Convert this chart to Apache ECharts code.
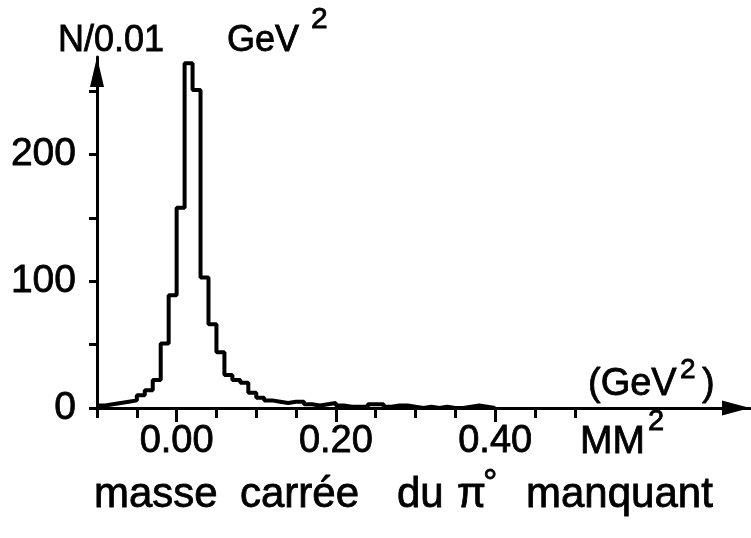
<!DOCTYPE html>
<html>
<head>
<meta charset="utf-8">
<script src="https://cdn.jsdelivr.net/npm/echarts@6/dist/echarts.min.js"></script>
<style>
  html, body { margin: 0; padding: 0; background: #ffffff; }
  #chart { width: 751px; height: 538px; }
</style>
</head>
<body>
<div id="chart"></div>
<script>
// Missing mass squared histogram, bins of 0.01 GeV^2 (left bin edges)
const binEdges = [
  -0.10, -0.09, -0.08, -0.07, -0.06, -0.05, -0.04, -0.03, -0.02, -0.01,
   0.00,  0.01,  0.02,  0.03,  0.04,  0.05,  0.06,  0.07,  0.08,  0.09,
   0.10,  0.11,  0.12,  0.13,  0.14,  0.15,  0.16,  0.17,  0.18,  0.19,
   0.20,  0.21,  0.22,  0.23,  0.24,  0.25,  0.26,  0.27,  0.28,  0.29,
   0.30,  0.31,  0.32,  0.33,  0.34,  0.35,  0.36,  0.37,  0.38,  0.39,
   0.40
];
const counts = [
    2,   3,   4,   5,   6,  10,  14,  22,  51,  89,
  158, 272, 251, 103,  66,  44,  26,  22,  20,  12,
    8,   6,   5,   4,   5,   5,   3,   2,   3,   4,
    2,   1,   1,   1,   3,   3,   1,   2,   2,   1,
    0,   1,   0,   1,   0,   0,   1,   2,   1,   0
];

// Axis ticks and labels
const xTicks = [-0.10, -0.05, 0.00, 0.05, 0.10, 0.15, 0.20, 0.25, 0.30, 0.35, 0.40, 0.45, 0.50];
const xLabels = [0.00, 0.20, 0.40];
const yTicks = [0, 50, 100, 150, 200, 250];
const yLabels = [0, 100, 200];

// Step outline: each bin's level runs from its left edge to the next edge
const stepData = binEdges.map((x, i) => [x, counts[Math.min(i, counts.length - 1)]]);

const FONT = 'Liberation Sans';
const chart = echarts.init(document.getElementById('chart'), null, { renderer: 'canvas' });

// plain text with a thin outline so the strokes look a little heavier
function txt(x, y, text, size) {
  return {
    type: 'text', x: x, y: y,
    style: { text: text, fill: '#000', stroke: '#000', lineWidth: 0.8,
      font: 'normal ' + size + 'px "' + FONT + '"' }
  };
}

const labelStyle = { color: '#000', fontFamily: FONT, textBorderColor: '#000', textBorderWidth: 0.8 };

chart.setOption({
  animation: false,
  backgroundColor: '#ffffff',
  grid: { left: 97, right: 1, top: 57, bottom: 130, outerBoundsMode: 'none' },
  xAxis: [{
    type: 'value', min: -0.10, max: 0.72,
    axisLine: { show: true, onZero: false, lineStyle: { color: '#000', width: 3 },
      symbol: ['none', 'triangle'], symbolSize: [15, 28], symbolOffset: [0, -14] },
    axisTick: { show: true, length: 10, lineStyle: { color: '#000', width: 3 }, customValues: xTicks },
    axisLabel: Object.assign({ show: true, customValues: xLabels, margin: 15,
      fontSize: 38, formatter: v => v.toFixed(2) }, labelStyle),
    splitLine: { show: false }
  }, {
    // longer ticks under the labelled values
    type: 'value', min: -0.10, max: 0.72, position: 'bottom',
    axisLine: { show: false },
    axisTick: { show: true, length: 14, lineStyle: { color: '#000', width: 3 }, customValues: xLabels },
    axisLabel: { show: false },
    splitLine: { show: false }
  }],
  yAxis: {
    type: 'value', min: 0, max: 277,
    axisLine: { show: true, onZero: false, lineStyle: { color: '#000', width: 3 },
      symbol: ['none', 'triangle'], symbolSize: [14, 30], symbolOffset: [0, -15] },
    axisTick: { show: true, length: 8, lineStyle: { color: '#000', width: 3 }, customValues: yTicks },
    axisLabel: Object.assign({ show: true, customValues: yLabels, margin: 21, fontSize: 39 }, labelStyle),
    splitLine: { show: false }
  },
  series: [{
    type: 'line', step: 'end', xAxisIndex: 0, yAxisIndex: 0,
    data: stepData, showSymbol: false, symbol: 'none', clip: false,
    lineStyle: { color: '#000', width: 4 }
  }],
  graphic: [
    txt(58, 23, 'N/0.01', 36),
    txt(227, 23, 'GeV', 36),
    txt(311, 5, '2', 30),
    txt(588, 366, '(GeV', 38),
    txt(680, 356, '2', 28),
    txt(702, 366, ')', 38),
    txt(580, 423, 'MM', 39),
    txt(648, 407, '2', 29),
    txt(94, 474, 'masse', 42),
    txt(240, 474, 'carrée', 42),
    txt(397, 474, 'du', 42),
    txt(457, 474, 'π', 42),
    txt(483, 467, '°', 36),
    txt(526, 474, 'manquant', 42)
  ]
});
</script>
</body>
</html>
